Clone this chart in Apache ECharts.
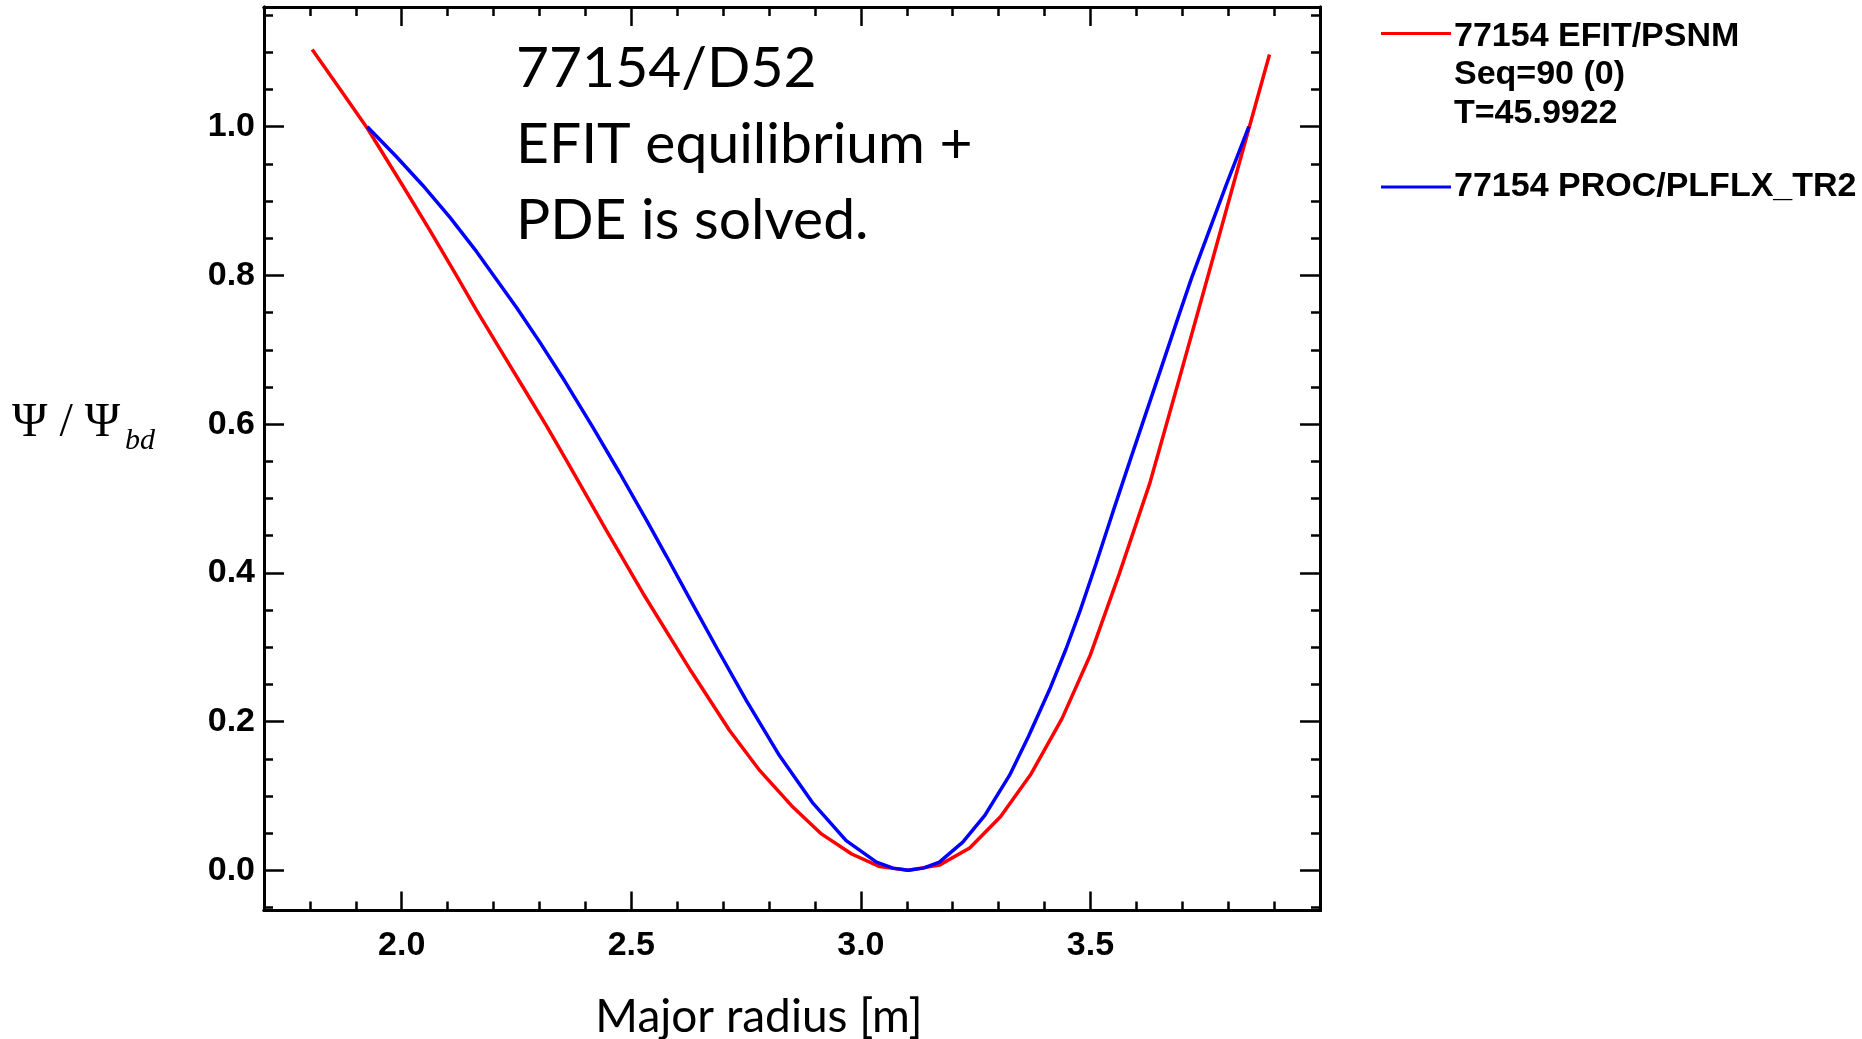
<!DOCTYPE html>
<html><head><meta charset="utf-8">
<script src="https://cdn.jsdelivr.net/npm/echarts@6/dist/echarts.min.js"></script>
<style>html,body{margin:0;padding:0;background:#fff}#c{width:1862px;height:1039px}</style>
</head><body><div id="c"></div>
<script>
// ---- data ----
const efitR   = [1.805,1.865,1.925,1.995,2.061,2.119,2.163,2.214,2.264,2.315,2.359,2.446,2.526,2.630,2.714,2.780,2.849,2.914,2.980,3.041,3.103,3.171,3.237,3.304,3.371,3.438,3.500,3.563,3.629,3.694,3.760,3.825,3.890];
const efitPsi = [1.104,1.051,0.998,0.928,0.861,0.800,0.753,0.701,0.650,0.598,0.551,0.457,0.372,0.268,0.188,0.134,0.087,0.049,0.022,0.005,0.000,0.007,0.030,0.072,0.130,0.204,0.290,0.399,0.520,0.662,0.808,0.953,1.097];
const procR   = [1.925,1.988,2.046,2.105,2.163,2.250,2.301,2.355,2.417,2.475,2.534,2.577,2.630,2.688,2.751,2.823,2.896,2.968,3.034,3.070,3.103,3.136,3.171,3.222,3.270,3.324,3.365,3.413,3.447,3.478,3.512,3.549,3.590,3.650,3.694,3.720,3.767,3.796,3.845];
const procPsi = [1.000,0.960,0.921,0.878,0.832,0.757,0.710,0.658,0.595,0.534,0.470,0.422,0.362,0.297,0.228,0.154,0.090,0.040,0.011,0.003,0.000,0.003,0.011,0.038,0.074,0.128,0.180,0.246,0.298,0.350,0.412,0.482,0.558,0.668,0.749,0.796,0.874,0.922,1.000];

const xMajorTicks = [2.0, 2.5, 3.0, 3.5];
const xMinorTicks = [1.8,1.9,2.1,2.2,2.3,2.4,2.6,2.7,2.8,2.9,3.1,3.2,3.3,3.4,3.6,3.7,3.8,3.9];
const yMajorTicks = [0.0, 0.2, 0.4, 0.6, 0.8, 1.0];
const yMinorTicks = [-0.05,0.05,0.1,0.15,0.25,0.3,0.35,0.45,0.5,0.55,0.65,0.7,0.75,0.85,0.9,0.95,1.05,1.1,1.15];

const seriesNames = ['77154 EFIT/PSNM', '77154 PROC/PLFLX_TR2'];
const efitNote = ['Seq=90 (0)', 'T=45.9922'];
const annotation = ['77154/D52', 'EFIT equilibrium +', 'PDE is solved.'];
const xTitle = 'Major radius [m]';
const yTitleMain = 'Ψ / Ψ';
const yTitleSub = 'bd';

// ---- chart ----
const X_MIN = 1.7, X_MAX = 4.0, Y_MIN = -0.054, Y_MAX = 1.161;
const tickFont = {color:'#000', fontFamily:'Liberation Sans', fontWeight:'bold', fontSize:34};

function xAx(pos, ticks, len, labels) {
  return {
    type:'value', min:X_MIN, max:X_MAX, position:pos,
    axisLine:{show:true, onZero:false, lineStyle:{color:'#000', width:3}},
    axisTick:{show:true, inside:true, length:len, customValues:ticks, lineStyle:{color:'#000', width:2.5}},
    axisLabel: labels ? Object.assign({show:true, customValues:ticks, margin:18, formatter:v=>v.toFixed(1)}, tickFont) : {show:false},
    splitLine:{show:false}
  };
}
function yAx(pos, ticks, len, labels) {
  return {
    type:'value', min:Y_MIN, max:Y_MAX, position:pos,
    axisLine:{show:true, onZero:false, lineStyle:{color:'#000', width:3}},
    axisTick:{show:true, inside:true, length:len, customValues:ticks, lineStyle:{color:'#000', width:2.5}},
    axisLabel: labels ? Object.assign({show:true, customValues:ticks, margin:9, formatter:v=>v.toFixed(1)}, tickFont) : {show:false},
    splitLine:{show:false}
  };
}

const chart = echarts.init(document.getElementById('c'), null, {renderer:'canvas'});
chart.setOption({
  animation:false,
  backgroundColor:'#fff',
  grid:{left:264, top:7, width:1056, height:903.5, containLabel:false},
  xAxis:[ xAx('bottom', xMajorTicks, 19, true), xAx('bottom', xMinorTicks, 9, false),
          xAx('top', xMajorTicks, 19, false), xAx('top', xMinorTicks, 9, false) ],
  yAxis:[ yAx('left', yMajorTicks, 20, true), yAx('left', yMinorTicks, 9, false),
          yAx('right', yMajorTicks, 20, false), yAx('right', yMinorTicks, 9, false) ],
  series:[
    {type:'line', name:seriesNames[0], xAxisIndex:0, yAxisIndex:0, showSymbol:false, symbol:'none',
     data: efitR.map((r,i)=>[r, efitPsi[i]]), lineStyle:{color:'#ff0000', width:3.5}, itemStyle:{color:'#ff0000'}},
    {type:'line', name:seriesNames[1], xAxisIndex:0, yAxisIndex:0, showSymbol:false, symbol:'none',
     data: procR.map((r,i)=>[r, procPsi[i]]), lineStyle:{color:'#0000ff', width:3.5}, itemStyle:{color:'#0000ff'}}
  ],
  graphic:[
    {type:'text', x:516, y:31, style:{text:annotation.join('\n'), fontFamily:'Lato', fontSize:57, lineHeight:76, fill:'#000', align:'left', verticalAlign:'top'}},
    {type:'text', x:759, y:1017, style:{text:xTitle, fontFamily:'Lato', fontSize:46, fill:'#000', align:'center', verticalAlign:'middle'}},
    {type:'text', x:12, y:423, style:{text:yTitleMain, fontFamily:'Liberation Serif', fontSize:48, fill:'#000', align:'left', verticalAlign:'middle'}},
    {type:'text', x:125, y:441, style:{text:yTitleSub, fontFamily:'Liberation Serif', fontStyle:'italic', fontSize:30, fill:'#000', align:'left', verticalAlign:'middle'}},
    {type:'line', shape:{x1:1381, y1:33.5, x2:1451, y2:33.5}, style:{stroke:'#ff0000', lineWidth:3}},
    {type:'text', x:1454, y:17, style:{text:[seriesNames[0]].concat(efitNote).join('\n'), fontFamily:'Liberation Sans', fontWeight:'bold', fontSize:34, lineHeight:38.5, fill:'#000', align:'left', verticalAlign:'top'}},
    {type:'line', shape:{x1:1381, y1:187, x2:1451, y2:187}, style:{stroke:'#0000ff', lineWidth:3}},
    {type:'text', x:1454, y:187, style:{text:seriesNames[1], fontFamily:'Liberation Sans', fontWeight:'bold', fontSize:34, fill:'#000', align:'left', verticalAlign:'middle'}}
  ]
});
</script>
</body></html>
